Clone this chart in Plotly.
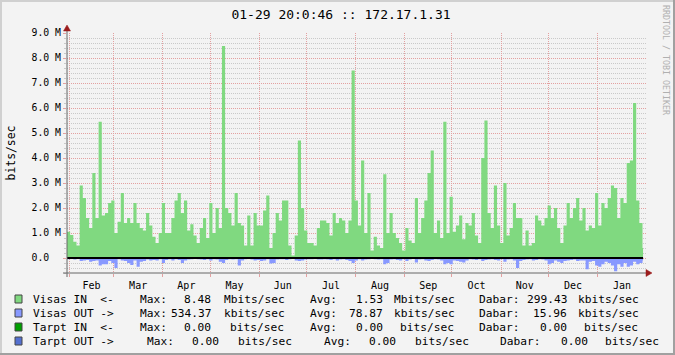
import plotly.graph_objects as go
import pandas as pd

# ---------------- data (Mbits/sec, 2-day buckets) ----------------
visas_in = [
    1.05, 0.92, 0.65, 0.5, 2.9, 2.4, 1.6, 1.2, 3.4, 1.6,
    5.45, 1.7, 1.8, 2.2, 2.3, 1.0, 1.45, 2.6, 1.4, 1.6,
    1.4, 2.2, 1.4, 1.2, 1.1, 1.8, 1.3, 0.85, 0.6, 1.0,
    2.2, 1.0, 1.0, 1.6, 2.3, 2.6, 1.8, 2.3, 1.1, 1.35,
    0.9, 0.6, 1.2, 1.6, 0.8, 2.2, 1.0, 2.0, 1.2, 8.48,
    2.0, 1.8, 1.3, 2.6, 1.4, 1.3, 0.5, 1.7, 0.5, 1.8,
    1.3, 1.3, 1.9, 2.5, 0.4, 1.0, 1.8, 1.5, 2.3, 2.3,
    0.5, 0.1, 0.9, 4.7, 2.0, 1.1, 0.6, 0.6, 0.5, 1.2,
    1.5, 1.5, 1.4, 0.9, 1.8, 1.4, 1.6, 1.5, 1.0, 1.5,
    7.5, 2.3, 1.3, 3.9, 1.0, 2.6, 0.3, 0.85, 0.5, 0.4,
    3.35, 1.0, 1.8, 1.0, 0.8, 0.6, 0.3, 1.2, 0.7, 0.6,
    2.4, 1.0, 1.6, 2.3, 3.4, 4.3, 1.0, 1.5, 0.8, 5.45,
    1.0, 2.45, 1.05, 1.3, 1.7, 0.75, 1.4, 1.3, 1.8, 0.9,
    0.6, 4.0, 5.5, 1.8, 1.2, 2.9, 1.3, 0.6, 3.0, 0.9,
    1.2, 2.2, 1.6, 1.6, 0.5, 1.1, 0.5, 0.6, 1.7, 1.5,
    1.3, 1.6, 2.1, 1.6, 2.0, 1.2, 0.6, 1.3, 2.2, 1.6,
    2.0, 2.4, 1.5, 2.0, 1.1, 1.3, 1.2, 2.6, 1.3, 2.2,
    2.0, 2.4, 2.9, 2.8, 1.6, 2.4, 2.2, 3.8, 3.9, 6.2,
    2.3, 1.4, 0.4,
]
visas_out = [
    0.05, 0.04, 0.06, 0.03, 0.12, 0.1, 0.08, 0.15, 0.12, 0.1,
    0.3, 0.25, 0.25, 0.12, 0.2, 0.4, 0.05, 0.1, 0.12, 0.2,
    0.28, 0.1, 0.35, 0.15, 0.12, 0.06, 0.1, 0.08, 0.1, 0.05,
    0.2, 0.08, 0.05, 0.1, 0.05, 0.08, 0.2, 0.1, 0.06, 0.05,
    0.04, 0.05, 0.06, 0.08, 0.05, 0.1, 0.05, 0.06, 0.15, 0.2,
    0.08, 0.05, 0.06, 0.05, 0.3, 0.1, 0.05, 0.04, 0.06, 0.1,
    0.08, 0.12, 0.1, 0.05, 0.22, 0.2, 0.06, 0.05, 0.05, 0.08,
    0.05, 0.04, 0.1, 0.12, 0.1, 0.06, 0.05, 0.05, 0.04, 0.06,
    0.06, 0.05, 0.06, 0.08, 0.05, 0.1, 0.06, 0.05, 0.08, 0.12,
    0.2, 0.1, 0.05, 0.1, 0.06, 0.05, 0.04, 0.05, 0.06, 0.05,
    0.25, 0.2, 0.06, 0.05, 0.08, 0.1, 0.05, 0.12, 0.06, 0.04,
    0.18, 0.06, 0.05, 0.1, 0.12, 0.08, 0.05, 0.06, 0.1, 0.25,
    0.2, 0.25, 0.1, 0.12, 0.15, 0.18, 0.1, 0.05, 0.06, 0.08,
    0.05, 0.12, 0.08, 0.06, 0.05, 0.08, 0.1, 0.05, 0.15, 0.06,
    0.05, 0.1, 0.4, 0.12, 0.08, 0.06, 0.05, 0.1, 0.08, 0.05,
    0.06, 0.1, 0.25, 0.2, 0.1, 0.15, 0.2, 0.12, 0.1, 0.08,
    0.06, 0.12, 0.1, 0.1, 0.45, 0.15, 0.12, 0.3, 0.35, 0.25,
    0.15, 0.2, 0.3, 0.53, 0.25, 0.35, 0.2, 0.35, 0.3, 0.15,
    0.25, 0.2, 0.1,
]
start_time = "2009-01-30 12:00"
end_time = "2010-01-29 20:00"
x_range = ["2009-01-30 12:00", "2010-01-31 17:00"]

y_tick_vals = [0, 1, 2, 3, 4, 5, 6, 7, 8, 9]
y_tick_text = ["0.0\u00a0\u00a0", "1.0 M", "2.0 M", "3.0 M", "4.0 M",
               "5.0 M", "6.0 M", "7.0 M", "8.0 M", "9.0 M"]

title_text = "01-29 20:0:46 :: 172.17.1.31"
legend_names = ["Visas IN  <-", "Visas OUT ->", "Tarpt IN  <-", "Tarpt OUT ->"]
legend_colors = ["#80d980", "#8899ff", "#00a000", "#5470d0"]
max_vals = ["8.48", "534.37", "0.00", "0.00"]
max_units = ["Mbits/sec", "kbits/sec", "bits/sec", "bits/sec"]
avg_vals = ["1.53", "78.87", "0.00", "0.00"]
avg_units = ["Mbits/sec", "kbits/sec", "bits/sec", "bits/sec"]
cur_vals = ["299.43", "15.96", "0.00", "0.00"]
cur_units = ["kbits/sec", "kbits/sec", "bits/sec", "bits/sec"]

# ---------------- geometry helpers ----------------
W, H = 675, 355
L, R, T, B = 67, 646, 33, 273


def px(x):
    return (x - L) / (R - L)


def py(y):
    return (B - y) / (B - T)


MONO = "DejaVu Sans Mono"
MGRID = "#e3a0a0"
GRID = "#c9c9c9"
AXIS = "#666666"
ARROW = "#9b1c1c"

dates = list(pd.date_range(start_time, periods=len(visas_in), freq="2D")) + [pd.Timestamp(end_time)]

fig = go.Figure()
fig.add_trace(go.Scatter(
    x=dates, y=visas_in + [visas_in[-1]], mode="lines",
    line=dict(width=0, shape="hv", color=legend_colors[0]),
    fill="tozeroy", fillcolor=legend_colors[0], hoverinfo="skip"))
fig.add_trace(go.Scatter(
    x=dates, y=[-v for v in visas_out] + [-visas_out[-1]], mode="lines",
    line=dict(width=0, shape="hv", color=legend_colors[1]),
    fill="tozeroy", fillcolor=legend_colors[1], hoverinfo="skip"))
fig.add_trace(go.Scatter(
    x=[dates[0], dates[-1]], y=[0, 0], mode="lines",
    line=dict(color="black", width=2), hoverinfo="skip"))

fig.update_layout(
    width=W, height=H,
    margin=dict(l=L, r=W - R, t=T, b=H - B),
    paper_bgcolor="#f3f3f3", plot_bgcolor="#f3f3f3",
    showlegend=False,
    title=dict(text=title_text, x=341 / W, xref="container", xanchor="center",
               y=1 - 14 / H, yref="container", yanchor="middle",
               font=dict(family=MONO, size=13, color="black")),
)
fig.update_xaxes(
    type="date", range=x_range, tick0="2009-02-01", dtick="M1",
    tickformat="%b", ticklabelmode="period",
    showgrid=True, gridcolor=MGRID, griddash="1px,1px", gridwidth=1,
    ticks="outside", ticklen=3, tickcolor=MGRID,
    tickfont=dict(family=MONO, size=10, color="black"),
    showline=False, zeroline=False, fixedrange=True,
)
fig.update_yaxes(
    range=[-0.6, 9.0], tickmode="array", tickvals=y_tick_vals, ticktext=y_tick_text,
    showgrid=True, gridcolor=MGRID, griddash="1px,1px", gridwidth=1,
    ticks="outside", ticklen=3, tickcolor=MGRID,
    tickfont=dict(family=MONO, size=9.8, color="black"),
    minor=dict(dtick=0.2, tick0=0, showgrid=True, gridcolor=GRID, griddash="1px,1px",
               ticks="outside", ticklen=2, tickcolor=GRID),
    title=dict(text="bits/sec", font=dict(family=MONO, size=11.4, color="black"), standoff=13),
    showline=False, zeroline=False, fixedrange=True,
)

shapes = []
# frame
shapes.append(dict(type="rect", xref="paper", yref="paper",
                   x0=px(0), x1=px(2), y0=py(H), y1=py(0),
                   fillcolor="#d0d0d0", line=dict(width=0), layer="above"))
shapes.append(dict(type="rect", xref="paper", yref="paper",
                   x0=px(0), x1=px(W), y0=py(2), y1=py(0),
                   fillcolor="#d0d0d0", line=dict(width=0), layer="above"))
shapes.append(dict(type="rect", xref="paper", yref="paper",
                   x0=px(W - 2), x1=px(W), y0=py(H), y1=py(0),
                   fillcolor="#a0a0a0", line=dict(width=0), layer="above"))
shapes.append(dict(type="rect", xref="paper", yref="paper",
                   x0=px(0), x1=px(W), y0=py(H), y1=py(H - 2),
                   fillcolor="#a0a0a0", line=dict(width=0), layer="above"))
# axes lines
shapes.append(dict(type="line", xref="paper", yref="paper",
                   x0=px(63), x1=px(647), y0=py(273), y1=py(273),
                   line=dict(color=AXIS, width=1), layer="above"))
shapes.append(dict(type="line", xref="paper", yref="paper",
                   x0=px(67), x1=px(67), y0=py(277), y1=py(30),
                   line=dict(color=AXIS, width=1), layer="above"))
# arrows
shapes.append(dict(type="path", xref="paper", yref="paper",
                   path=f"M {px(63.5)},{py(31)} L {px(70.5)},{py(31)} L {px(67)},{py(25)} Z",
                   fillcolor=ARROW, line=dict(color=ARROW, width=0.5), layer="above"))
shapes.append(dict(type="path", xref="paper", yref="paper",
                   path=f"M {px(646)},{py(269.5)} L {px(646)},{py(276.5)} L {px(652)},{py(273)} Z",
                   fillcolor=ARROW, line=dict(color=ARROW, width=0.5), layer="above"))

annotations = []
annotations.append(dict(text="RRDTOOL / TOBI OETIKER", xref="paper", yref="paper",
                        x=px(666), y=py(60), textangle=90, showarrow=False,
                        xanchor="center", yanchor="middle",
                        font=dict(family=MONO, size=8.3, color="#b0b0b0")))

row_y = [299, 313, 327, 341]
# per-row column positions (px): Max:, max number right edge, unit, Avg:, num right, unit, Dabar:, num right, unit
cols = [
    (137.7, 213.5, 221.7, 307.7, 384.5, 391.7, 477.3, 569.0, 576.0),
    (137.7, 213.5, 221.7, 307.7, 384.5, 391.7, 477.3, 569.0, 576.0),
    (137.7, 213.5, 228.4, 307.7, 384.5, 398.3, 477.3, 569.0, 582.3),
    (145.0, 220.5, 235.7, 321.7, 398.0, 412.7, 498.3, 589.5, 603.3),
]
LEG_SIZE = 11.2


def ann(text, x, y, anchor="left"):
    return dict(text=text.replace(" ", "\u00a0"), xref="paper", yref="paper",
                x=px(x), y=py(y), showarrow=False, xanchor=anchor, yanchor="middle",
                font=dict(family=MONO, size=LEG_SIZE, color="black"))


for i in range(4):
    y = row_y[i]
    c = cols[i]
    shapes.append(dict(type="rect", xref="paper", yref="paper",
                       x0=px(15), x1=px(22), y0=py(y + 4), y1=py(y - 4),
                       fillcolor=legend_colors[i], line=dict(color="#444444", width=1),
                       layer="above"))
    annotations.append(ann(legend_names[i], 30.7, y))
    annotations.append(ann("Max:", c[0], y))
    annotations.append(ann(max_vals[i], c[1], y, "right"))
    annotations.append(ann(max_units[i], c[2], y))
    annotations.append(ann("Avg:", c[3], y))
    annotations.append(ann(avg_vals[i], c[4], y, "right"))
    annotations.append(ann(avg_units[i], c[5], y))
    annotations.append(ann("Dabar:", c[6], y))
    annotations.append(ann(cur_vals[i], c[7], y, "right"))
    annotations.append(ann(cur_units[i], c[8], y))

fig.update_layout(shapes=shapes, annotations=annotations)
fig.write_html("out.html", config={"displayModeBar": False})
